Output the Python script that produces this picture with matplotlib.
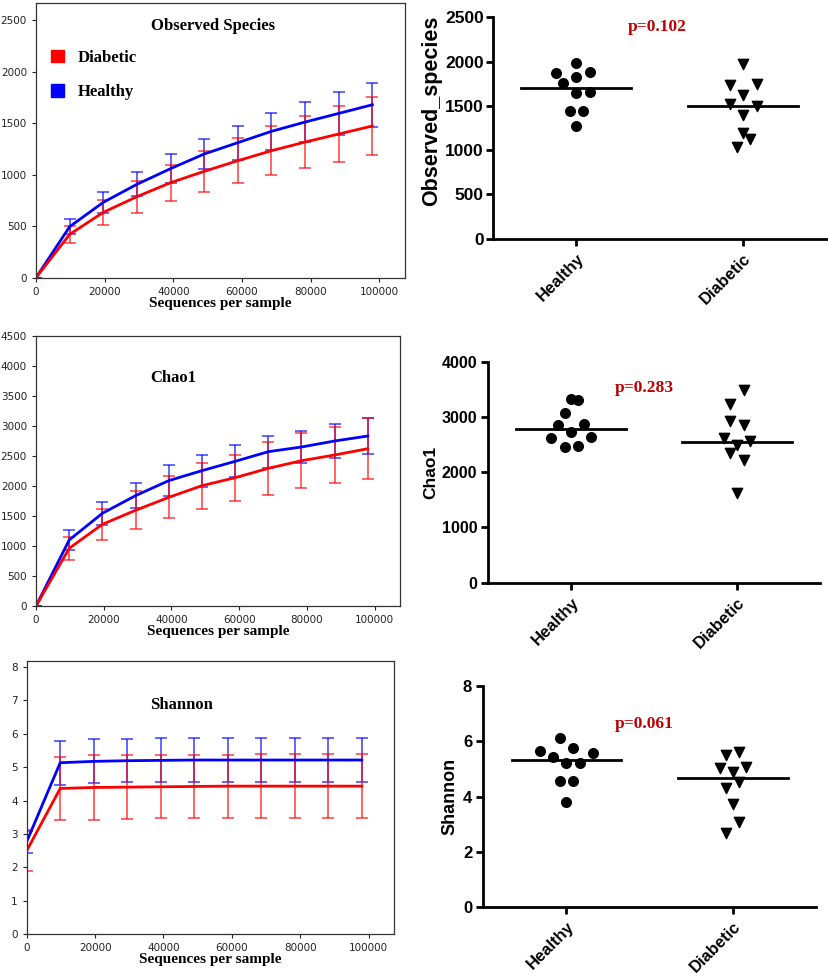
import matplotlib
matplotlib.use("Agg")
import matplotlib.pyplot as plt
from matplotlib.patches import Patch
import numpy as np

# ---------------- data ----------------
depth = [0, 9800, 19600, 29400, 39200, 49000, 58800, 68600, 78400, 88200, 98000]

obs_healthy_mean = [0, 495, 731, 906, 1058, 1200, 1310, 1420, 1510, 1594, 1678]
obs_healthy_sd = [0, 70, 100, 115, 140, 150, 165, 180, 190, 210, 215]
obs_diabetic_mean = [0, 420, 634, 786, 922, 1032, 1135, 1232, 1316, 1394, 1472]
obs_diabetic_sd = [0, 80, 120, 155, 175, 200, 217, 235, 255, 270, 283]

chao_healthy_mean = [0, 1099, 1543, 1837, 2087, 2253, 2408, 2569, 2647, 2747, 2830]
chao_healthy_sd = [0, 160, 190, 211, 255, 268, 265, 265, 270, 290, 295]
chao_diabetic_mean = [0, 960, 1360, 1593, 1809, 2003, 2136, 2292, 2419, 2514, 2619]
chao_diabetic_sd = [0, 190, 260, 315, 350, 383, 380, 440, 455, 470, 505]

shannon_healthy_mean = [2.77, 5.13, 5.17, 5.19, 5.20, 5.21, 5.21, 5.21, 5.21, 5.21, 5.21]
shannon_healthy_sd = [0.33, 0.66, 0.66, 0.65, 0.66, 0.65, 0.65, 0.65, 0.65, 0.66, 0.66]
shannon_diabetic_mean = [2.50, 4.36, 4.39, 4.40, 4.41, 4.42, 4.43, 4.43, 4.43, 4.43, 4.43]
shannon_diabetic_sd = [0.61, 0.93, 0.96, 0.95, 0.94, 0.95, 0.94, 0.95, 0.95, 0.95, 0.95]

groups = ["Healthy", "Diabetic"]

obs_healthy = [1988, 1867, 1878, 1822, 1762, 1642, 1657, 1446, 1446, 1273]
obs_diabetic = [1973, 1736, 1744, 1623, 1521, 1499, 1397, 1197, 1122, 1039]
obs_group_means = [1706, 1499]
obs_p = "p=0.102"

chao_healthy = [3324, 3306, 3065, 2848, 2866, 2721, 2612, 2630, 2455, 2480]
chao_diabetic = [3487, 3234, 2932, 2848, 2612, 2564, 2492, 2341, 2220, 1629]
chao_group_means = [2781, 2552]
chao_p = "p=0.283"

shannon_healthy = [6.13, 5.66, 5.75, 5.57, 5.42, 5.20, 5.20, 4.55, 4.55, 3.81]
shannon_diabetic = [5.49, 5.63, 5.04, 5.08, 4.89, 4.33, 4.52, 3.73, 3.07, 2.70]
shannon_group_means = [5.33, 4.69]
shannon_p = "p=0.061"

# horizontal scatter offsets (layout only)
obs_h_off = [0, -0.12, 0.08, 0, -0.08, 0, 0.08, -0.04, 0.04, 0]
obs_d_off = [0, -0.08, 0.08, 0, -0.08, 0.08, 0, 0, 0.04, -0.04]
chao_h_off = [0, 0.04, -0.04, -0.08, 0.08, 0, -0.12, 0.12, -0.04, 0.04]
chao_d_off = [0.04, -0.04, -0.04, 0.04, -0.08, 0.08, 0, -0.04, 0.04, 0]
sh_h_off = [-0.04, -0.16, 0.04, 0.16, -0.08, 0, 0.08, -0.04, 0.04, 0]
sh_d_off = [-0.04, 0.04, -0.08, 0.08, 0, -0.04, 0.04, 0, 0.04, -0.04]

# ---------------- figure ----------------
W, H = 829, 976
fig = plt.figure(figsize=(W / 100, H / 100), dpi=100)

def px_axes(x0, x1, ytop, ybot):
    return fig.add_axes([x0 / W, 1 - ybot / H, (x1 - x0) / W, (ybot - ytop) / H])

serif_bold = dict(family="Liberation Serif", weight="bold")
RED = "#ff0000"
BLUE = "#0000ff"

def rarefaction(ax, hm, hs, dm, ds, title, title_pos, ylim, yticks, legend=False):
    ax.errorbar(depth, hm, yerr=hs, fmt="none", ecolor=BLUE, elinewidth=1.2,
                capsize=4, capthick=1.2, alpha=0.7)
    ax.errorbar(depth, dm, yerr=ds, fmt="none", ecolor=RED, elinewidth=1.2,
                capsize=4, capthick=1.2, alpha=0.7)
    ax.plot(depth, hm, color=BLUE, lw=2)
    ax.plot(depth, dm, color=RED, lw=2)
    ax.set_xlim(0, 107500)
    ax.set_ylim(*ylim)
    ax.set_xticks([0, 20000, 40000, 60000, 80000, 100000])
    ax.set_yticks(yticks)
    ax.tick_params(labelsize=7.5, length=3, width=0.8, colors="#222222")
    for s in ax.spines.values():
        s.set_linewidth(0.9)
        s.set_color("#333333")
    ax.text(title_pos[0], title_pos[1], title, transform=ax.transAxes,
            ha="center", va="center", fontsize=12, **serif_bold)
    ax.set_xlabel("Sequences per sample", fontsize=11, labelpad=0, **serif_bold)
    if legend:
        handles = [Patch(facecolor=RED, edgecolor=RED, label="Diabetic"),
                   Patch(facecolor=BLUE, edgecolor=BLUE, label="Healthy")]
        ax.legend(handles=handles, loc="upper left", bbox_to_anchor=(0.0, 0.885),
                  frameon=False, handlelength=0.8, handleheight=0.8,
                  handletextpad=0.8, labelspacing=1.1,
                  prop=dict(family="Liberation Serif", weight="bold", size=12))

ax1 = px_axes(36, 405, 3, 277.7)
rarefaction(ax1, obs_healthy_mean, obs_healthy_sd, obs_diabetic_mean, obs_diabetic_sd,
            "Observed Species", (0.48, 0.916), (0, 2665), range(0, 2501, 500), legend=True)
ax2 = px_axes(36, 400, 335.7, 606)
rarefaction(ax2, chao_healthy_mean, chao_healthy_sd, chao_diabetic_mean, chao_diabetic_sd,
            "Chao1", (0.376, 0.843), (0, 4500), range(0, 4501, 500))
ax3 = px_axes(26.7, 394.3, 660.7, 934.3)
rarefaction(ax3, shannon_healthy_mean, shannon_healthy_sd, shannon_diabetic_mean,
            shannon_diabetic_sd, "Shannon", (0.42, 0.838), (0, 8.18), range(0, 9))

def dotplot(ax, hv, dv, hoff, doff, means, ylabel, ylim, yticks, ptext, ppos,
            tick_fs, label_fs, label_xy, ypad):
    ax.scatter(np.zeros(len(hv)) + np.array(hoff), hv, marker="o", s=48,
               color="black", zorder=3, clip_on=False)
    ax.scatter(np.ones(len(dv)) + np.array(doff), dv, marker="v", s=55,
               color="black", zorder=3, clip_on=False)
    for i, m in enumerate(means):
        ax.plot([i - 0.33, i + 0.33], [m, m], color="black", lw=2, zorder=2)
    ax.set_xlim(-0.5, 1.5)
    ax.set_ylim(*ylim)
    ax.set_yticks(yticks)
    ax.set_xticks([0, 1])
    ax.set_xticklabels(groups, rotation=45, ha="right", rotation_mode="anchor",
                       fontsize=12, fontweight="bold", family="Liberation Sans")
    for lab in ax.get_yticklabels():
        lab.set_fontweight("bold")
        lab.set_family("Liberation Sans")
        lab.set_fontsize(tick_fs)
    ax.tick_params(axis="both", width=2, length=5, direction="out")
    ax.tick_params(axis="y", pad=ypad)
    for s in ["top", "right"]:
        ax.spines[s].set_visible(False)
    for s in ["left", "bottom"]:
        ax.spines[s].set_linewidth(2)
    ax.set_ylabel(ylabel, fontsize=label_fs, fontweight="bold", family="Liberation Sans")
    ax.yaxis.set_label_coords(*label_xy)
    ax.text(ppos[0], ppos[1], ptext, ha="center", va="center", color="#c00000",
            fontsize=12.5, **serif_bold)

ax4 = px_axes(492.7, 826.7, 17.3, 238.7)
dotplot(ax4, obs_healthy, obs_diabetic, obs_h_off, obs_d_off, obs_group_means,
        "Observed_species", (0, 2500), range(0, 2501, 500), obs_p, (0.486, 2395),
        12.5, 15.5, (-0.152, 0.577), 1.5)
ax5 = px_axes(488.3, 820, 361.7, 582.7)
dotplot(ax5, chao_healthy, chao_diabetic, chao_h_off, chao_d_off, chao_group_means,
        "Chao1", (0, 4000), range(0, 4001, 1000), chao_p, (0.443, 3517),
        11.5, 12.5, (-0.15, 0.5), 3)
ax6 = px_axes(483.3, 816, 686, 907.3)
dotplot(ax6, shannon_healthy, shannon_diabetic, sh_h_off, sh_d_off, shannon_group_means,
        "Shannon", (0, 8), range(0, 9, 2), shannon_p, (0.469, 6.63),
        12, 13, (-0.075, 0.5), 3)

fig.savefig("out.png", dpi=100)
